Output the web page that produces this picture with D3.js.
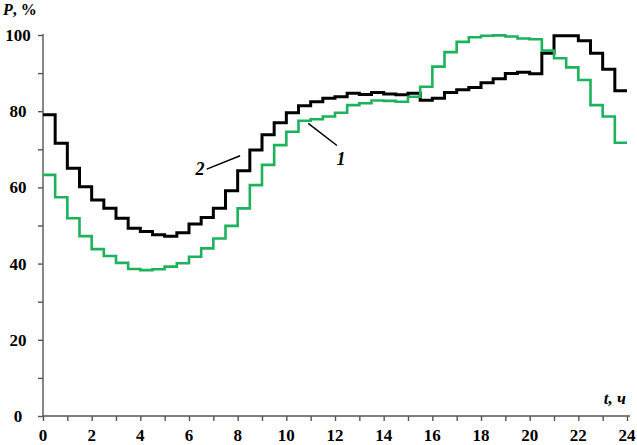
<!DOCTYPE html>
<html>
<head>
<meta charset="utf-8">
<script src="https://cdn.jsdelivr.net/npm/d3@7"></script>
<style>
    body { margin: 0; background: #fff; }
    #chart { width: 637px; height: 445px; }
    text { font-family: "Liberation Serif", "Times New Roman", serif; font-weight: bold; }
</style>
</head>
<body>
<div id="chart"></div>
<script>
// start of each half-hour interval, h
const hours = [0, 0.5, 1, 1.5, 2, 2.5, 3, 3.5, 4, 4.5, 5, 5.5, 6, 6.5, 7, 7.5,
    8, 8.5, 9, 9.5, 10, 10.5, 11, 11.5, 12, 12.5, 13, 13.5, 14, 14.5, 15, 15.5,
    16, 16.5, 17, 17.5, 18, 18.5, 19, 19.5, 20, 20.5, 21, 21.5, 22, 22.5, 23, 23.5];

// curve 1 (green), P %
const curve1 = [63.3, 57.4, 51.9, 47.2, 43.8, 42.0, 40.2, 38.6, 38.3, 38.5,
    39.2, 40.1, 41.8, 44.0, 46.6, 49.9, 54.5, 60.6, 65.9, 71.1,
    74.6, 77.5, 77.9, 78.6, 79.6, 81.6, 82.1, 82.8, 82.7, 82.5,
    83.8, 86.4, 91.7, 95.5, 98.2, 99.4, 99.8, 99.9, 99.6, 99.1,
    98.9, 95.9, 93.9, 91.5, 88.2, 81.6, 78.6, 71.7];

// curve 2 (black), P %
const curve2 = [79.1, 71.6, 65.0, 60.2, 56.7, 54.5, 51.9, 49.3, 48.4, 47.6,
    47.2, 48.1, 50.4, 52.1, 54.5, 59.1, 64.4, 69.8, 73.8, 77.0,
    79.6, 81.4, 82.5, 83.4, 83.8, 84.7, 84.4, 84.9, 84.5, 84.3,
    84.7, 82.9, 83.4, 84.9, 85.6, 86.2, 87.5, 88.5, 89.9, 90.2,
    89.8, 95.2, 99.8, 99.8, 98.5, 95.2, 91.0, 85.4];

const xTicks = [0, 2, 4, 6, 8, 10, 12, 14, 16, 18, 20, 22, 24];
const yTicks = [0, 20, 40, 60, 80, 100];

class stepChart {

    constructor(parentElement) {
        this.parentElement = parentElement;
        this.initVis();
    }

    initVis() {
        let vis = this;
        vis.margin = { top: 35, right: 10, bottom: 29, left: 43 };
        vis.width = 637 - vis.margin.left - vis.margin.right;
        vis.height = 445 - vis.margin.top - vis.margin.bottom;

        vis.svg = d3.select('#' + vis.parentElement).append("svg")
            .attr("width", 637)
            .attr("height", 445)
            .append("g")
            .attr("transform", "translate(" + vis.margin.left + "," + vis.margin.top + ")");

        vis.x = d3.scaleLinear().domain([0, 24]).range([0, 584]);
        vis.y = d3.scaleLinear().domain([0, 100]).range([vis.height, 0]);

        vis.updateVis();
    }

    updateVis() {
        let vis = this;

        // ticks only, labels are placed separately
        let xAxis = d3.axisBottom(vis.x)
            .tickValues(d3.range(0, 25, 1))
            .tickSize(5)
            .tickFormat("");
        vis.svg.append("g")
            .attr("class", "x-axis")
            .attr("transform", "translate(0," + vis.height + ")")
            .call(xAxis)
            .call(g => g.select(".domain").attr("d", "M0,0H" + (vis.x(24) + 3)));

        let yAxis = d3.axisLeft(vis.y)
            .tickValues(d3.range(0, 101, 10))
            .tickSize(5)
            .tickFormat("");
        vis.svg.append("g")
            .attr("class", "y-axis")
            .call(yAxis)
            .call(g => g.select(".domain").attr("d", "M0," + vis.height + "V-1"));

        vis.svg.selectAll(".x-axis path, .x-axis line, .y-axis path, .y-axis line")
            .attr("stroke", "#555")
            .attr("stroke-width", 1.4);

        vis.svg.selectAll(".x-label")
            .data(xTicks)
            .enter()
            .append("text")
            .attr("class", "x-label")
            .attr("x", d => vis.x(d))
            .attr("y", vis.height + 25)
            .attr("text-anchor", "middle")
            .style("font-size", "17px")
            .text(d => d);

        vis.svg.selectAll(".y-label")
            .data(yTicks)
            .enter()
            .append("text")
            .attr("class", "y-label")
            .attr("x", -25)
            .attr("y", d => vis.y(d) + 6)
            .attr("text-anchor", "middle")
            .style("font-size", "17px")
            .text(d => d);

        // axis titles
        vis.svg.append("text")
            .attr("x", -40)
            .attr("y", -20)
            .style("font-size", "16px")
            .html('<tspan font-style="italic">P</tspan>, %');

        vis.svg.append("text")
            .attr("x", vis.x(24) - 1)
            .attr("y", vis.height - 12)
            .attr("text-anchor", "end")
            .style("font-size", "17px")
            .style("font-style", "italic")
            .text("t, ч");

        let line = d3.line()
            .x(d => vis.x(d[0]))
            .y(d => vis.y(d[1]))
            .curve(d3.curveStepAfter);

        let toPoints = values => {
            let pts = hours.map((h, i) => [h, values[i]]);
            pts.push([24, values[values.length - 1]]);
            return pts;
        };

        vis.svg.append("path")
            .datum(toPoints(curve2))
            .attr("fill", "none")
            .attr("stroke", "#000")
            .attr("stroke-width", 3)
            .attr("d", line);

        vis.svg.append("path")
            .datum(toPoints(curve1))
            .attr("fill", "none")
            .attr("stroke", "#1db35c")
            .attr("stroke-width", 2.6)
            .attr("d", line);

        // curve labels with leader lines
        vis.svg.append("line")
            .attr("x1", vis.x(6.73)).attr("y1", vis.y(64.8))
            .attr("x2", vis.x(8.1)).attr("y2", vis.y(68.3))
            .attr("stroke", "#000").attr("stroke-width", 1.5);
        vis.svg.append("text")
            .attr("x", vis.x(6.45))
            .attr("y", vis.y(63.3))
            .attr("text-anchor", "middle")
            .style("font-size", "18px")
            .style("font-style", "italic")
            .text("2");

        vis.svg.append("line")
            .attr("x1", vis.x(10.9)).attr("y1", vis.y(76.8))
            .attr("x2", vis.x(12.08)).attr("y2", vis.y(71.0))
            .attr("stroke", "#000").attr("stroke-width", 1.5);
        vis.svg.append("text")
            .attr("x", vis.x(12.25))
            .attr("y", vis.y(66.0))
            .attr("text-anchor", "middle")
            .style("font-size", "18px")
            .style("font-style", "italic")
            .text("1");
    }
}

new stepChart("chart");
</script>
</body>
</html>
